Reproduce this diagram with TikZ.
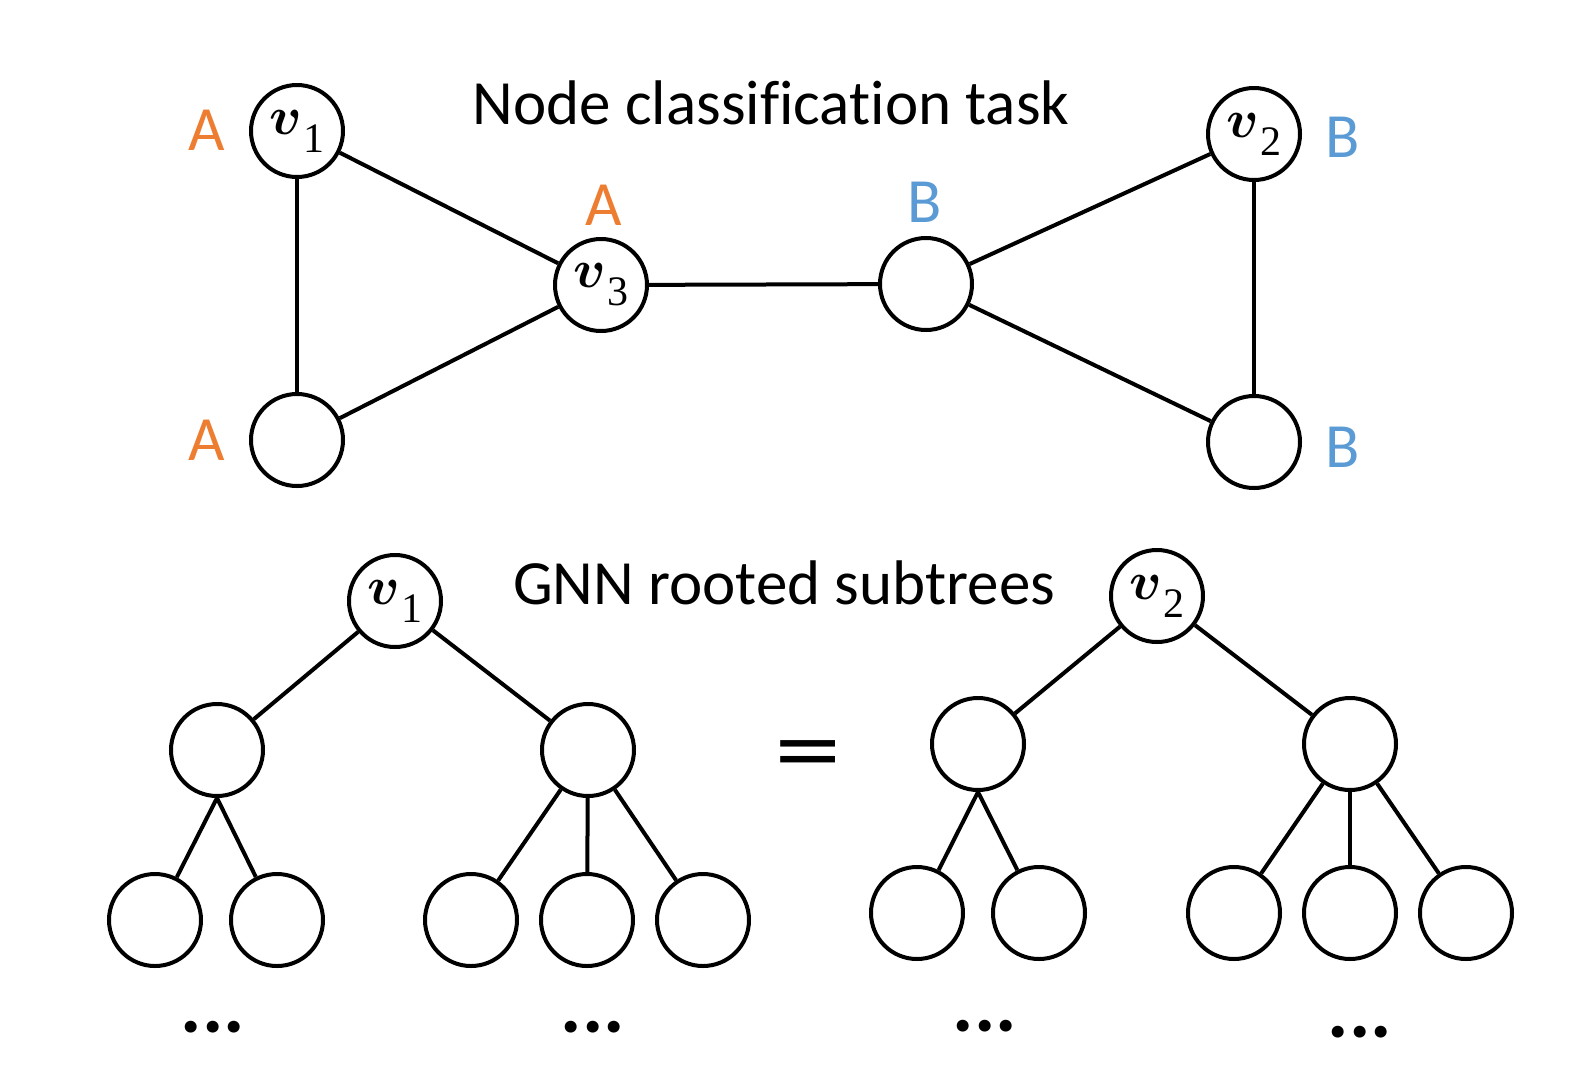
\RequirePackage{fix-cm}
\documentclass[tikz,border=0pt]{standalone}
\usepackage{fontspec}
\setmainfont{Carlito}[Ligatures=NoCommon]
\newfontfamily\digitfont{Liberation Serif}
\definecolor{orangeA}{HTML}{ED7D31}
\definecolor{blueB}{HTML}{5B9BD5}
\newcommand{\vlab}[1]{$v$\kern1pt\raisebox{-18pt}{\fontsize{42}{42}\digitfont #1}}
\begin{document}
\begin{tikzpicture}[x=1pt,y=-1pt,line width=4pt,
  vert/.style={circle,draw,minimum size=92pt,inner sep=0pt,font=\fontsize{54}{60}\selectfont\boldmath},
  heading/.style={font=\fontsize{63}{70}\selectfont,inner sep=0pt},
  labA/.style={font=\fontsize{63}{70}\selectfont,text=orangeA,inner sep=0pt},
  labB/.style={font=\fontsize{63}{70}\selectfont,text=blueB,inner sep=0pt},
  dots/.style={font=\fontsize{80}{90}\selectfont\bfseries,inner sep=0pt},
  edge/.style={line width=4pt}]
\useasboundingbox (0,0) rectangle (1580,1072);
% titles
\node[heading] (t1) at (771,103) {Node classification task};
\node[heading] (t2) at (784,583) {GNN rooted subtrees};
% top graph
\node[vert] (v1) at (297,131) {\vlab{1}};
\node[vert] (bl) at (297,440) {};
\node[vert] (v3) at (601,285) {\vlab{3}};
\node[vert] (rm) at (926,284) {};
\node[vert] (v2) at (1254,134) {\vlab{2}};
\node[vert] (br) at (1254,442) {};
\draw[edge] (v1) -- (bl);
\draw[edge] (v1) -- (v3);
\draw[edge] (bl) -- (v3);
\draw[edge] (v3) -- (rm);
\draw[edge] (rm) -- (v2);
\draw[edge] (rm) -- (br);
\draw[edge] (v2) -- (br);
% labels
\node[labA] (la1) at (207,130) {A};
\node[labA] (la2) at (207,440) {A};
\node[labA] (la3) at (604,205) {A};
\node[labB] (lb1) at (925,202) {B};
\node[labB] (lb2) at (1343,137) {B};
\node[labB] (lb3) at (1343,447) {B};
% tree 1
\node[vert] (r1) at (395,601) {\vlab{1}};
\node[vert] (a1) at (217,750) {};
\node[vert] (a2) at (588,750) {};
\node[vert] (g1) at (155,920) {};
\node[vert] (g2) at (277,920) {};
\node[vert] (g3) at (471,920) {};
\node[vert] (g4) at (587,920) {};
\node[vert] (g5) at (703,920) {};
\draw[edge] (r1) -- (a1);
\draw[edge] (r1) -- (a2);
\draw[edge] (a1.south) -- (g1);
\draw[edge] (a1.south) -- (g2);
\draw[edge] (a2) -- (g3);
\draw[edge] (a2) -- (g4);
\draw[edge] (a2) -- (g5);
% tree 2
\node[vert] (r2) at (1157,596) {\vlab{2}};
\node[vert] (b1) at (978,744) {};
\node[vert] (b2) at (1350,744) {};
\node[vert] (h1) at (917,913) {};
\node[vert] (h2) at (1039,913) {};
\node[vert] (h3) at (1234,913) {};
\node[vert] (h4) at (1350,913) {};
\node[vert] (h5) at (1466,913) {};
\draw[edge] (r2) -- (b1);
\draw[edge] (r2) -- (b2);
\draw[edge] (b1.south) -- (h1);
\draw[edge] (b1.south) -- (h2);
\draw[edge] (b2) -- (h3);
\draw[edge] (b2) -- (h4);
\draw[edge] (b2) -- (h5);
% equals
\node[font=\fontsize{100}{110}\selectfont,inner sep=0pt,xscale=1.35] (eq) at (808,762) {=};
% dots
\node[dots,anchor=base] (d1) at (213,1032) {...};
\node[dots,anchor=base] (d2) at (593,1032) {...};
\node[dots,anchor=base] (d3) at (985,1031) {...};
\node[dots,anchor=base] (d4) at (1360,1037) {...};
\end{tikzpicture}
\end{document}
